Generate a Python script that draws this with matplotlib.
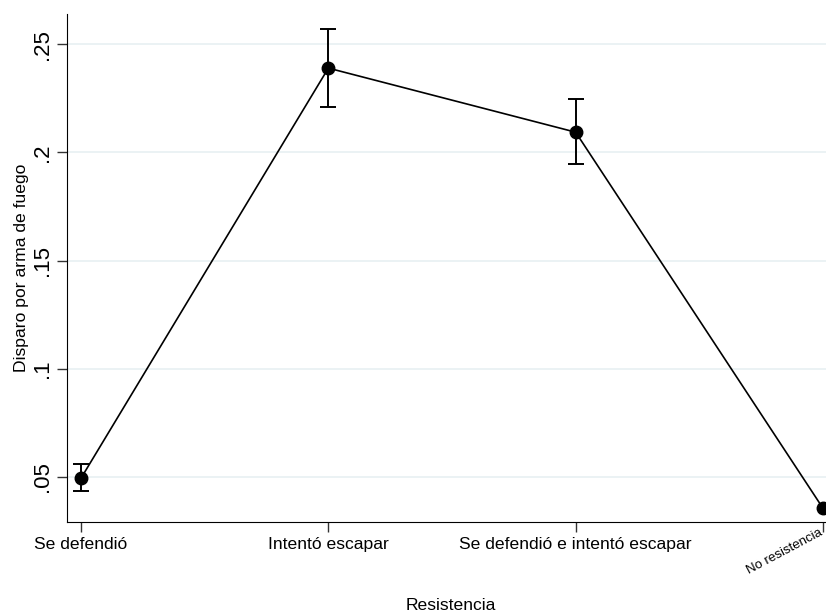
import matplotlib.pyplot as plt

plt.rcParams['font.family'] = ['Liberation Sans', 'DejaVu Sans']

categories = ["Se defendió", "Intentó escapar", "Se defendió e intentó escapar", "No resistencia"]
estimates = [0.0495, 0.2389, 0.2093, 0.0356]
ci_low = [0.0435, 0.2208, 0.1944, 0.0356]
ci_high = [0.0558, 0.2570, 0.2245, 0.0356]
yticks = [0.05, 0.10, 0.15, 0.20, 0.25]
ytick_labels = [".05", ".1", ".15", ".2", ".25"]

W, H = 826, 616
fig = plt.figure(figsize=(W / 100, H / 100), dpi=100)
ax = fig.add_axes([67 / W, (H - 522) / H, (837 - 67) / W, (522 - 14) / H])

x = list(range(1, len(categories) + 1))
yerr = [[e - lo for e, lo in zip(estimates, ci_low)],
        [hi - e for e, hi in zip(estimates, ci_high)]]

ax.plot(x, estimates, color='black', lw=1.2, zorder=3, clip_on=False)
ax.errorbar(x[:3], estimates[:3], yerr=[yerr[0][:3], yerr[1][:3]], fmt='none',
            ecolor='black', elinewidth=1.4, capsize=6, capthick=1.4, zorder=3)
ax.plot(x, estimates, 'o', color='black', ms=9, zorder=4, clip_on=False)

ax.set_xlim(0.943, 4.057)
ax.set_ylim(0.0292, 0.2639)
ax.set_yticks(yticks)
ax.set_yticklabels(ytick_labels, rotation=90, va='center', fontsize=16)
ax.set_xticks(x)
ax.set_xticklabels(categories[:3] + [""], fontsize=12.6)
ax.text(3.982, 0.0269, categories[3], rotation=28, ha='right', va='top',
        fontsize=9.5, rotation_mode='anchor')

ax.grid(axis='y', color='#e8f0f2', lw=1.2)
ax.set_axisbelow(True)
for s in ['top', 'right']:
    ax.spines[s].set_visible(False)
ax.tick_params(axis='both', length=7, width=1, color='#333333')
ax.tick_params(axis='y', pad=3)

ax.set_ylabel("Disparo por arma de fuego", fontsize=12.6, labelpad=2)
fig.text(451 / W, 1 - 606 / H, "Resistencia", ha='center', va='center', fontsize=12.6)

fig.savefig("out.png", dpi=100)
